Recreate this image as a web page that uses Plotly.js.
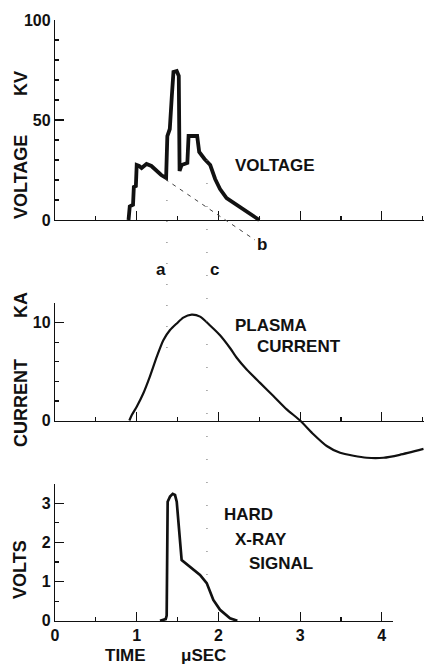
<!DOCTYPE html>
<html>
<head>
<meta charset="utf-8">
<script src="https://cdn.plot.ly/plotly-3.0.1.min.js"></script>
<style>html,body{margin:0;padding:0;background:#fff;}#chart{width:424px;height:664px;}</style>
</head>
<body>
<div id="chart"></div>
<script>
// ---- data ----
const voltageTime = [0.90, 0.915, 0.955, 0.965, 0.99, 1.00, 1.03, 1.06, 1.12, 1.18, 1.30, 1.36, 1.375, 1.405, 1.43, 1.45, 1.49, 1.515, 1.525, 1.55, 1.62, 1.635, 1.74, 1.765, 1.83, 1.90, 1.96, 2.02, 2.10, 2.26, 2.50];
const voltageKV   = [0, 6.8, 7.6, 16.5, 17, 27.5, 27, 26, 28, 27, 22.5, 21, 42, 45.5, 62, 74, 74.5, 72, 24.5, 27.5, 28.5, 42, 42, 34, 30.5, 27.5, 20.5, 15.5, 11, 6.5, 0];

const baseLineTime = [1.346, 2.448];   // dashed extrapolation to "b"
const baseLineKV   = [20.5, -10];

const currentTime = [0.91, 0.94, 1.0, 1.08, 1.16, 1.245, 1.326, 1.408, 1.49, 1.57, 1.673, 1.776, 1.898, 2.02, 2.142, 2.224, 2.346, 2.51, 2.673, 2.836, 3.0, 3.163, 3.326, 3.49, 3.653, 3.816, 4.02, 4.22, 4.51];
const currentKA   = [0, 0.56, 1.41, 2.76, 4.46, 6.5, 8.2, 9.23, 9.9, 10.5, 10.8, 10.6, 9.7, 8.7, 7.4, 6.4, 5.2, 3.84, 2.5, 1.14, 0, -1.4, -2.6, -3.3, -3.6, -3.8, -3.8, -3.5, -2.9];

const xrayTime  = [1.285, 1.355, 1.367, 1.379, 1.408, 1.441, 1.469, 1.49, 1.55, 1.653, 1.775, 1.857, 1.938, 2.02, 2.142, 2.232];
const xrayVolts = [0, 0.04, 0.13, 3.04, 3.17, 3.24, 3.21, 3.04, 1.55, 1.38, 1.17, 0.96, 0.53, 0.28, 0.06, 0];

const markerTimes  = [1.37, 1.86];   // dotted markers "a" and "c"
const markerLabels = ['a', 'c'];
const timeTicks = [0, 1, 2, 3, 4];

// ---- layout helpers (pixel -> paper) ----
const W = 424, H = 664;
const fx = p => p / W;
const fy = p => 1 - p / H;
const FONT = 'Liberation Sans, Arial, Helvetica, sans-serif';
const INK = '#111';
const xMax = (424 - 55) / 81.7;
const xMaxBottom = (393 - 55) / 81.7;
const TICKFONT = {family: FONT, size: 16, color: INK, weight: 700};
const boldText = v => '<b>' + v + '</b>';

function visX(domainEnd, rangeMax, labels) {
  return {
    domain: [fx(55), domainEnd], range: [0, rangeMax], showgrid: false, zeroline: false,
    showline: true, linecolor: INK, linewidth: 1.2,
    ticks: 'inside', ticklen: 9, tickwidth: 1.2, tickcolor: INK,
    tickvals: timeTicks, ticktext: timeTicks.map(boldText),
    showticklabels: labels, tickfont: TICKFONT,
    minor: {ticks: 'inside', ticklen: 4, tickwidth: 1.2, tickcolor: INK, dtick: 0.5, tick0: 0, showgrid: false},
    fixedrange: true
  };
}
function visY(domain, range, majors, minorDt) {
  return {
    domain: domain, range: range, showgrid: false, zeroline: false,
    showline: true, linecolor: INK, linewidth: 1.2,
    ticks: 'inside', ticklen: 9, tickwidth: 1.2, tickcolor: INK,
    tickvals: majors, ticktext: majors.map(boldText), tickfont: TICKFONT,
    minor: {ticks: 'inside', ticklen: 4, tickwidth: 1.2, tickcolor: INK, dtick: minorDt, tick0: 0, showgrid: false},
    fixedrange: true
  };
}
function hidX(rangeMax, anchor) {
  return {domain: [fx(55), 1], range: [0, rangeMax], visible: false, anchor: anchor, fixedrange: true};
}
function hidY(domain, range, anchor) {
  return {domain: domain, range: range, visible: false, anchor: anchor, fixedrange: true};
}

const traces = [
  {x: voltageTime, y: voltageKV, xaxis: 'x4', yaxis: 'y4', mode: 'lines',
   line: {color: INK, width: 3.8, shape: 'linear'}, hoverinfo: 'skip'},
  {x: baseLineTime, y: baseLineKV, xaxis: 'x4', yaxis: 'y4', mode: 'lines',
   line: {color: '#444', width: 1, dash: '4px,5px'}, hoverinfo: 'skip'},
  {x: currentTime, y: currentKA, xaxis: 'x5', yaxis: 'y5', mode: 'lines',
   line: {color: INK, width: 2.2, shape: 'spline', smoothing: 0.6}, hoverinfo: 'skip'},
  {x: xrayTime, y: xrayVolts, xaxis: 'x6', yaxis: 'y6', mode: 'lines',
   line: {color: INK, width: 2.7}, hoverinfo: 'skip'},
  // invisible anchors for the visible axes
  {x: [0], y: [0], xaxis: 'x', yaxis: 'y', mode: 'markers', marker: {opacity: 0}, hoverinfo: 'skip'},
  {x: [0], y: [0], xaxis: 'x2', yaxis: 'y2', mode: 'markers', marker: {opacity: 0}, hoverinfo: 'skip'},
  {x: [0], y: [0], xaxis: 'x3', yaxis: 'y3', mode: 'markers', marker: {opacity: 0}, hoverinfo: 'skip'}
];

const shapes = [
  {type: 'line', xref: 'x4', yref: 'paper', x0: markerTimes[0], x1: markerTimes[0], y0: fy(348), y1: fy(186),
   line: {color: '#666', width: 1, dash: '1px,20px'}},
  {type: 'line', xref: 'x4', yref: 'paper', x0: markerTimes[1], x1: markerTimes[1], y0: fy(575), y1: fy(160),
   line: {color: '#666', width: 1, dash: '1px,22px'}}
];

function ann(text, px, py, size, opts) {
  return Object.assign({text: text, xref: 'paper', yref: 'paper', x: fx(px), y: fy(py),
    showarrow: false, xanchor: 'center', yanchor: 'middle',
    font: {family: FONT, size: size, color: INK, weight: 700}}, opts || {});
}

const annotations = [
  ann('VOLTAGE', 21, 177, 18, {textangle: -90}),
  ann('KV', 21, 84, 18, {textangle: -90}),
  ann('CURRENT', 21, 403, 18, {textangle: -90}),
  ann('KA', 21, 305, 18, {textangle: -90}),
  ann('VOLTS', 20, 570, 18, {textangle: -90}),
  ann('TIME', 125, 655, 17),
  ann('\u03bcSEC', 203, 655, 17),
  ann('VOLTAGE', 233, 165, 17, {xanchor: 'left'}),
  ann('PLASMA', 233, 325, 17, {xanchor: 'left'}),
  ann('CURRENT', 255, 346, 17, {xanchor: 'left'}),
  ann('HARD', 222, 514, 17, {xanchor: 'left'}),
  ann('X-RAY', 233, 539, 17, {xanchor: 'left'}),
  ann('SIGNAL', 247, 563, 17, {xanchor: 'left'}),
  ann(markerLabels[0], 160.5, 270, 17),
  ann(markerLabels[1], 214, 270, 17),
  ann('b', 262, 245, 17)
];

const layout = {
  width: W, height: H, margin: {l: 0, r: 0, t: 0, b: 0},
  paper_bgcolor: '#fff', plot_bgcolor: 'rgba(0,0,0,0)', showlegend: false,
  xaxis: Object.assign(visX(1, xMax, false), {anchor: 'y'}),
  yaxis: Object.assign(visY([fy(220), fy(20)], [0, 100], [0, 50, 100], 10), {anchor: 'x'}),
  xaxis2: Object.assign(visX(1, xMax, false), {anchor: 'y2'}),
  yaxis2: Object.assign(visY([fy(420.5), fy(302.9)], [0, 12], [0, 10], 2), {anchor: 'x2'}),
  xaxis3: Object.assign(visX(fx(393), xMaxBottom, true), {anchor: 'y3', ticklabelstandoff: 0}),
  yaxis3: Object.assign(visY([fy(620.7), fy(483.7)], [0, 3.5], [0, 1, 2, 3], 0.5), {anchor: 'x3'}),
  xaxis4: hidX(xMax, 'y4'), yaxis4: hidY([fy(252), fy(20)], [-(252 - 220) / 2, 100], 'x4'),
  xaxis5: hidX(xMax, 'y5'), yaxis5: hidY([fy(470), fy(302.9)], [-(470 - 420.5) / 9.8, 12], 'x5'),
  xaxis6: hidX(xMax, 'y6'), yaxis6: hidY([fy(635), fy(483.7)], [-(635 - 620.7) / 39.13, 3.5], 'x6'),
  shapes: shapes, annotations: annotations
};

Plotly.newPlot('chart', traces, layout, {staticPlot: true, displayModeBar: false});
</script>
</body>
</html>
